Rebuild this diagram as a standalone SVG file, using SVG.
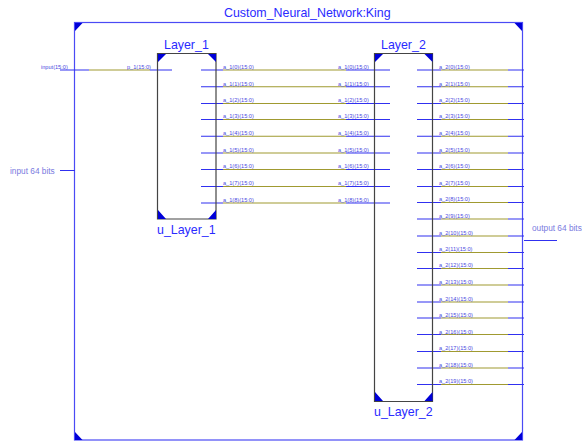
<svg xmlns="http://www.w3.org/2000/svg" width="582" height="442" viewBox="0 0 582 442">
<style>
text{font-family:"Liberation Sans",Arial,sans-serif}
.t{font-size:12.4px;fill:#2a2aff}
.s{font-size:5.6px;fill:#4a4ae0}
.m{font-size:8.3px;fill:#7a7ae0}
.b{fill:none;stroke:#4a4af5;stroke-width:1.2}
.k{fill:none;stroke:#444;stroke-width:1.2}
.c{fill:#0000d8}
.w{fill:none;stroke:#3030f0;stroke-width:1.1}
.o{fill:none;stroke:#a09a30;stroke-width:1.1}
</style>
<g id="top">
<rect class="b" x="74.500" y="22.500" width="448" height="417.500"/>
<path class="c" d="M75 23h7.500l-7.500 8zM522 23h-7.500l7.500 8zM75 440v-8l7.500 8zM522 440v-8l-7.500 8z"/>
<text class="t" x="224" y="17">Custom_Neural_Network:King</text>
</g>
<g id="connectors">
<path class="w" d="M60 70H89M150 70H172"/>
<path class="o" d="M89 70H150"/>
<path class="w" d="M201 70H223M346 70H390M201 86.700H223M346 86.700H390M201 103.500H223M346 103.500H390M201 119.500H223M346 119.500H390M201 136.200H223M346 136.200H390M201 153H223M346 153H390M201 169.500H223M346 169.500H390M201 186.500H223M346 186.500H390M201 203H223M346 203H390"/>
<path class="o" d="M223 70H346M223 86.700H346M223 103.500H346M223 119.500H346M223 136.200H346M223 153H346M223 169.500H346M223 186.500H346M223 203H346"/>
<path class="w" d="M417 70H441M508 70H524M417 86.700H441M508 86.700H524M417 103.500H441M508 103.500H524M417 119.500H441M508 119.500H524M417 136.200H441M508 136.200H524M417 153H441M508 153H524M417 169.500H441M508 169.500H524M417 186.500H441M508 186.500H524M417 202.500H441M508 202.500H524M417 219H441M508 219H524M417 236H441M508 236H524M417 252.500H441M508 252.500H524M417 268.500H441M508 268.500H524M417 285H441M508 285H524M417 302H441M508 302H524M417 318H441M508 318H524M417 334.500H441M508 334.500H524M417 351.500H441M508 351.500H524M417 368H441M508 368H524M417 384.500H441M508 384.500H524"/>
<path class="o" d="M441 70H508M441 86.700H508M441 103.500H508M441 119.500H508M441 136.200H508M441 153H508M441 169.500H508M441 186.500H508M441 202.500H508M441 219H508M441 236H508M441 252.500H508M441 268.500H508M441 285H508M441 302H508M441 318H508M441 334.500H508M441 351.500H508M441 368H508M441 384.500H508"/>
<path class="w" d="M60 170.500H75M524 240.500H557"/>
</g>
<g id="input-port">
<text class="s" x="41" y="69">input(15:0)</text>
<text class="m" x="10" y="174">input 64 bits</text>
</g>
<g id="output-port">
<text class="m" x="532" y="231">output 64 bits</text>
</g>
<g id="u_Layer_1">
<path class="k" d="M157.500 53.500H216V219H157.500Z"/>
<path class="c" d="M158 54h8l-8 8zM216 54h-8l8 8zM158 219v-9l8 9zM216 219v-9l-8 9z"/>
<text class="t" x="164" y="49">Layer_1</text>
<text class="t" x="157" y="234">u_Layer_1</text>
<g class="labels">
<text class="s" x="127" y="69">p_1(15:0)</text>
<text class="s" x="223" y="69">a_1(0)(15:0)</text>
<text class="s" x="223" y="85.500">a_1(1)(15:0)</text>
<text class="s" x="223" y="102">a_1(2)(15:0)</text>
<text class="s" x="223" y="118">a_1(3)(15:0)</text>
<text class="s" x="223" y="135">a_1(4)(15:0)</text>
<text class="s" x="223" y="151.500">a_1(5)(15:0)</text>
<text class="s" x="223" y="168">a_1(6)(15:0)</text>
<text class="s" x="223" y="184.500">a_1(7)(15:0)</text>
<text class="s" x="223" y="201.500">a_1(8)(15:0)</text>
</g>
</g>
<g id="u_Layer_2">
<path class="k" d="M374.500 53.500H432.500V401.500H374.500Z"/>
<path class="c" d="M375 54h8l-8 8zM432.500 54h-8l8 8zM375 401v-9l8 9zM432.500 401v-9l-8 9z"/>
<text class="t" x="381" y="49">Layer_2</text>
<text class="t" x="374" y="416">u_Layer_2</text>
<g class="labels">
<text class="s" x="338" y="69">a_1(0)(15:0)</text>
<text class="s" x="338" y="85.500">a_1(1)(15:0)</text>
<text class="s" x="338" y="102">a_1(2)(15:0)</text>
<text class="s" x="338" y="118">a_1(3)(15:0)</text>
<text class="s" x="338" y="135">a_1(4)(15:0)</text>
<text class="s" x="338" y="151.500">a_1(5)(15:0)</text>
<text class="s" x="338" y="168">a_1(6)(15:0)</text>
<text class="s" x="338" y="184.500">a_1(7)(15:0)</text>
<text class="s" x="338" y="201.500">a_1(8)(15:0)</text>
<text class="s" x="439" y="69">a_2(0)(15:0)</text>
<text class="s" x="439" y="85.500">a_2(1)(15:0)</text>
<text class="s" x="439" y="102">a_2(2)(15:0)</text>
<text class="s" x="439" y="118">a_2(3)(15:0)</text>
<text class="s" x="439" y="135">a_2(4)(15:0)</text>
<text class="s" x="439" y="151.500">a_2(5)(15:0)</text>
<text class="s" x="439" y="168">a_2(6)(15:0)</text>
<text class="s" x="439" y="184.500">a_2(7)(15:0)</text>
<text class="s" x="439" y="201">a_2(8)(15:0)</text>
<text class="s" x="439" y="218">a_2(9)(15:0)</text>
<text class="s" x="439" y="234.500">a_2(10)(15:0)</text>
<text class="s" x="439" y="250.500">a_2(11)(15:0)</text>
<text class="s" x="439" y="267">a_2(12)(15:0)</text>
<text class="s" x="439" y="284">a_2(13)(15:0)</text>
<text class="s" x="439" y="300.500">a_2(14)(15:0)</text>
<text class="s" x="439" y="317">a_2(15)(15:0)</text>
<text class="s" x="439" y="333.500">a_2(16)(15:0)</text>
<text class="s" x="439" y="350">a_2(17)(15:0)</text>
<text class="s" x="439" y="366.500">a_2(18)(15:0)</text>
<text class="s" x="439" y="383">a_2(19)(15:0)</text>
</g>
</g>
</svg>
